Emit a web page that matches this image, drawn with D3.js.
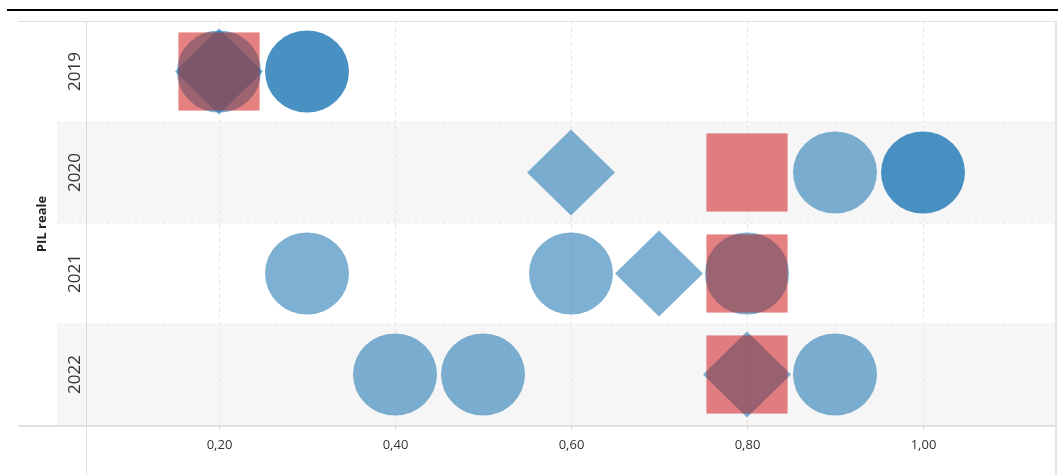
<!DOCTYPE html>
<html>
<head>
<meta charset="utf-8">
<script src="https://cdn.jsdelivr.net/npm/d3@7"></script>
<style>
  body { margin: 0; background: #fff; }
  svg { display: block; font-family: "Open Sans", "Noto Sans", sans-serif; }
</style>
</head>
<body>
<svg id="svg" width="1058" height="475"></svg>
<script>
const width = 1058;
const height = 475;

// rows of the chart
const years = ["2019", "2020", "2021", "2022"];
const shadedYears = ["2020", "2022"];

// marks, one array per shape
const circlesLight = [
  { year: "2019", value: 0.2 },
  { year: "2020", value: 0.9 },
  { year: "2021", value: 0.3 },
  { year: "2021", value: 0.6 },
  { year: "2021", value: 0.8 },
  { year: "2022", value: 0.4 },
  { year: "2022", value: 0.5 },
  { year: "2022", value: 0.9 },
];
const circlesDark = [
  { year: "2019", value: 0.3 },
  { year: "2020", value: 1.0 },
];
const diamonds = [
  { year: "2019", value: 0.2 },
  { year: "2020", value: 0.6 },
  { year: "2021", value: 0.7 },
  { year: "2022", value: 0.8 },
];
const squares = [
  { year: "2019", value: 0.2 },
  { year: "2020", value: 0.8 },
  { year: "2021", value: 0.8 },
  { year: "2022", value: 0.8 },
];

const xTicks = [0.2, 0.4, 0.6, 0.8, 1.0];
const axisTitle = "PIL reale";

const plot = { left: 87, right: 1055, top: 21, bottom: 425, rowLeft: 57, frameLeft: 18 };

const it = d3.formatLocale({ decimal: ",", thousands: ".", grouping: [3], currency: ["€", ""] });
const fmt = it.format(".2f");

const x = d3.scaleLinear().domain([0.05, 1.15]).range([plot.left, plot.right]);
const y = d3.scaleBand().domain(years).range([plot.top, plot.bottom]).padding(0);

let svg = d3.select("#svg");

// black rule on top
svg.append("line")
  .attr("x1", 7).attr("x2", width)
  .attr("y1", 10).attr("y2", 10)
  .attr("stroke", "#000").attr("stroke-width", 2);

// shaded rows
svg.append("g")
  .selectAll("rect")
  .data(shadedYears)
  .join("rect")
  .attr("x", plot.rowLeft)
  .attr("y", (d) => y(d))
  .attr("width", plot.right - plot.rowLeft)
  .attr("height", y.bandwidth())
  .attr("fill", "#f6f6f6");

// row dividers
svg.append("g")
  .selectAll("line")
  .data(years.slice(1))
  .join("line")
  .attr("x1", plot.rowLeft).attr("x2", plot.right)
  .attr("y1", (d) => y(d)).attr("y2", (d) => y(d))
  .attr("stroke", "#ebebeb")
  .attr("stroke-dasharray", "4,3");

// vertical grid
svg.append("g")
  .selectAll("line")
  .data(xTicks)
  .join("line")
  .attr("x1", (d) => Math.round(x(d)) + 0.5).attr("x2", (d) => Math.round(x(d)) + 0.5)
  .attr("y1", plot.top).attr("y2", plot.bottom)
  .attr("stroke", "#e6e6e6")
  .attr("stroke-dasharray", "4,3");

// frame
svg.append("line")
  .attr("x1", plot.frameLeft).attr("x2", plot.right + 1)
  .attr("y1", plot.top + 0.5).attr("y2", plot.top + 0.5)
  .attr("stroke", "#e0e0e0");
svg.append("line")
  .attr("x1", plot.left - 0.5).attr("x2", plot.left - 0.5)
  .attr("y1", plot.top).attr("y2", height)
  .attr("stroke", "#dcdcdc");
svg.append("line")
  .attr("x1", plot.right + 1).attr("x2", plot.right + 1)
  .attr("y1", plot.top).attr("y2", height)
  .attr("stroke", "#dcdcdc").attr("stroke-width", 1.5);

// x axis
let xAxis = svg.append("g")
  .attr("transform", `translate(0,${plot.bottom + 1})`)
  .call(d3.axisBottom(x).tickValues(xTicks).tickFormat(fmt).tickSize(4).tickPadding(10));
xAxis.select(".domain").remove();
xAxis.selectAll(".tick line").attr("stroke", "#d8d8d8");
xAxis.selectAll(".tick text")
  .attr("fill", "#333")
  .style("font-size", "13px")
  .style("font-family", "'Open Sans', sans-serif");
svg.append("line")
  .attr("x1", plot.frameLeft).attr("x2", plot.right + 1)
  .attr("y1", plot.bottom + 1).attr("y2", plot.bottom + 1)
  .attr("stroke", "#e0e0e0").attr("stroke-width", 2);

// row labels
svg.append("g")
  .selectAll("text")
  .data(years)
  .join("text")
  .attr("transform", (d) => `translate(80,${y(d) + y.bandwidth() / 2}) rotate(-90)`)
  .attr("text-anchor", "middle")
  .attr("fill", "#333")
  .style("font-size", "17px")
  .text((d) => d);

svg.append("text")
  .attr("transform", `translate(46,${(plot.top + plot.bottom) / 2 + 1}) rotate(-90)`)
  .attr("text-anchor", "middle")
  .attr("fill", "#222")
  .style("font-size", "13px")
  .style("font-weight", "bold")
  .text(axisTitle);

const cy = (d) => y(d.year) + y.bandwidth() / 2;
const blue = "#1f77b4";

// circles
let marks = svg.append("g");
marks.selectAll("ellipse.light")
  .data(circlesLight)
  .join("ellipse")
  .attr("class", "light")
  .attr("cx", (d) => x(d.value))
  .attr("cy", cy)
  .attr("rx", 42).attr("ry", 41)
  .attr("fill", blue).attr("fill-opacity", 0.58);
marks.selectAll("ellipse.dark")
  .data(circlesDark)
  .join("ellipse")
  .attr("class", "dark")
  .attr("cx", (d) => x(d.value))
  .attr("cy", cy)
  .attr("rx", 42).attr("ry", 41)
  .attr("fill", blue).attr("fill-opacity", 0.81);

// diamonds
marks.selectAll("path.diamond")
  .data(diamonds)
  .join("path")
  .attr("class", "diamond")
  .attr("d", (d) => {
    let cx = x(d.value), c = cy(d);
    return `M${cx},${c - 43}L${cx + 44},${c}L${cx},${c + 43}L${cx - 44},${c}Z`;
  })
  .attr("fill", blue).attr("fill-opacity", 0.58);

// squares: a multiply layer plus a translucent layer on top
marks.selectAll("rect.sqm")
  .data(squares)
  .join("rect")
  .attr("class", "sqm")
  .attr("x", (d) => x(d.value) - 40.5)
  .attr("y", (d) => cy(d) - 39)
  .attr("width", 81).attr("height", 78)
  .attr("fill", "rgb(244,160,160)")
  .style("mix-blend-mode", "multiply");
marks.selectAll("rect.sqn")
  .data(squares)
  .join("rect")
  .attr("class", "sqn")
  .attr("x", (d) => x(d.value) - 40.5)
  .attr("y", (d) => cy(d) - 39)
  .attr("width", 81).attr("height", 78)
  .attr("fill", "rgb(211,82,84)")
  .attr("fill-opacity", 0.4);
</script>
</body>
</html>
